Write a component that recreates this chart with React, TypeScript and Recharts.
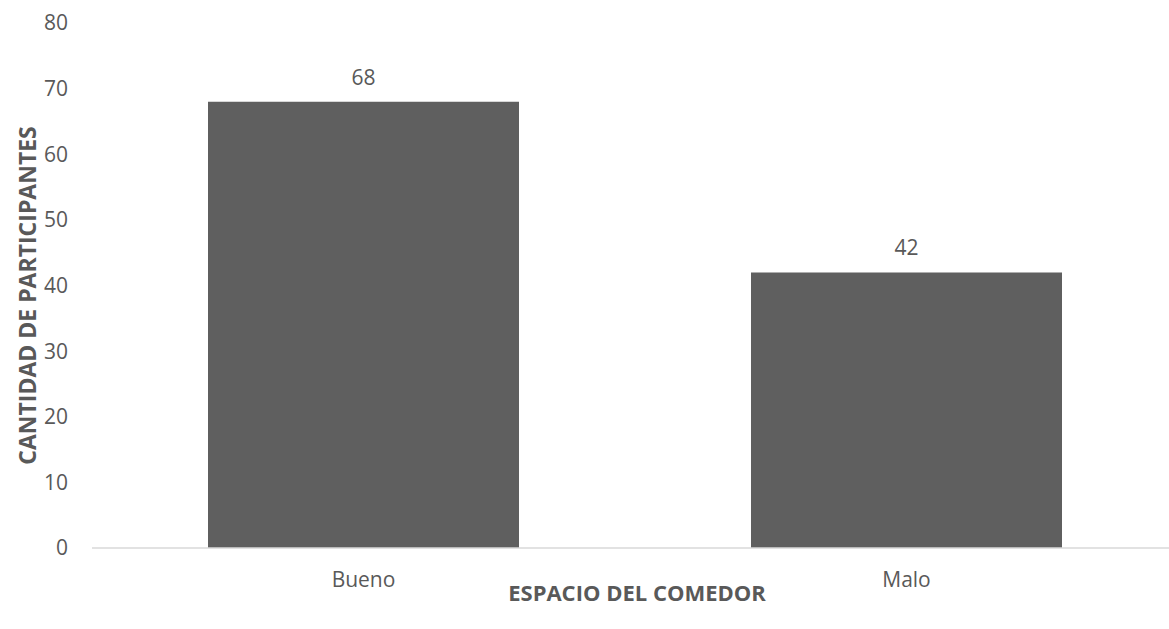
import React from 'react';
import { BarChart, Bar, XAxis, YAxis, LabelList } from 'recharts';

const categories: string[] = ['Bueno', 'Malo'];
const participantes: number[] = [68, 42];
const yTicks: number[] = [0, 10, 20, 30, 40, 50, 60, 70, 80];

const data = categories.map((c, i) => ({ name: c, value: participantes[i] }));

const FONT = '"Open Sans", sans-serif';
const TXT = '#595959';

const YTitle = (props: any) => {
  const vb = props.viewBox;
  const cx = vb.x + 27;
  const cy = vb.y + vb.height / 2 + 10;
  return (
    <text x={cx} y={cy} transform={`rotate(-90, ${cx}, ${cy})`} textAnchor="middle" dominantBaseline="central"
      fontFamily={FONT} fontWeight={700} fontSize={23} fill={TXT}>CANTIDAD DE PARTICIPANTES</text>
  );
};

const XTitle = (props: any) => {
  const vb = props.viewBox;
  const cx = 637;
  const cy = vb.y + 44;
  return (
    <text x={cx} y={cy} textAnchor="middle" dominantBaseline="central"
      fontFamily={FONT} fontWeight={700} fontSize={22} fill={TXT}>ESPACIO DEL COMEDOR</text>
  );
};

export default function App() {
  return (
    <div style={{ position: 'absolute', left: 0, top: 0, width: 1169, height: 629, overflow: 'hidden', background: '#fff' }}>
      <BarChart width={1169} height={629} data={data} margin={{ top: 23, right: -9, bottom: 0, left: 0 }}
        barCategoryGap={116}>
        <XAxis dataKey="name" height={81} axisLine={{ stroke: '#d9d9d9', strokeWidth: 1.5 }} tickLine={false}
          tickSize={0} tickMargin={24}
          tick={{ fill: TXT, fontFamily: FONT, fontSize: 21 }} label={<XTitle />} />
        <YAxis width={92} domain={[0, 80]} ticks={yTicks} axisLine={false} tickLine={false} tickSize={0} tickMargin={24}
          tick={{ fill: TXT, fontFamily: FONT, fontSize: 21 }} label={<YTitle />} />
        <Bar dataKey="value" fill="#5f5f5f" isAnimationActive={false}>
          <LabelList dataKey="value" position="top" offset={17} fill={TXT} fontFamily={FONT} fontSize={21} />
        </Bar>
      </BarChart>
    </div>
  );
}
